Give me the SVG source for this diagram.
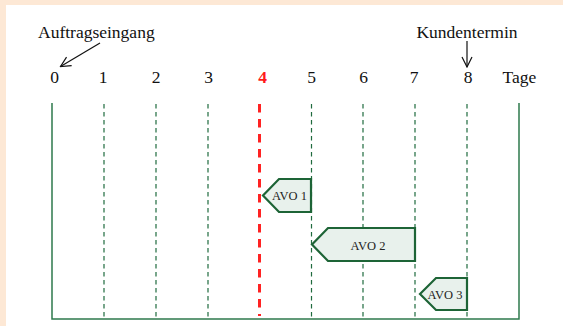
<svg xmlns="http://www.w3.org/2000/svg" width="563" height="326" viewBox="0 0 563 326">
  <style>
    .lbl { font-family: "Liberation Serif", "Times New Roman", serif; font-size: 17.5px; fill: #111; }
    .num { text-anchor: middle; }
    .avo { font-family: "Liberation Serif", "Times New Roman", serif; font-size: 12.5px; fill: #222; text-anchor: middle; }
    .axis { stroke: #2e7a4c; stroke-width: 1.5; fill: none; }
    .grid { stroke: #1f6b3e; stroke-width: 1.2; stroke-dasharray: 4.5 3.5; fill: none; }
    .today { stroke: #ff2222; stroke-width: 3; stroke-dasharray: 8.5 6.5; fill: none; }
    .task { fill: #e8f1ec; stroke: #1d6436; stroke-width: 2.2; stroke-linejoin: miter; }
    .pointer { stroke: #111; stroke-width: 1.2; fill: none; }
  </style>
  <defs>
    <marker id="vhead" viewBox="0 0 12 12" refX="11" refY="6" markerWidth="12" markerHeight="12" markerUnits="userSpaceOnUse" orient="auto">
      <path d="M1,1 L11,6 L1,11" fill="none" stroke="#111" stroke-width="1.2"/>
    </marker>
  </defs>

  <!-- page -->
  <rect x="0" y="0" width="563" height="326" fill="#fde8d5"/>
  <rect x="6" y="5" width="557" height="321" fill="#ffffff"/>

  <!-- timeline frame and day grid -->
  <g id="connectors">
    <path class="axis" d="M52,103 V319 H519 V103"/>
    <line class="grid" x1="104" y1="104" x2="104" y2="319"/>
    <line class="grid" x1="156" y1="104" x2="156" y2="319"/>
    <line class="grid" x1="208" y1="104" x2="208" y2="319"/>
    <line class="grid" x1="311.5" y1="104" x2="311.5" y2="319"/>
    <line class="grid" x1="363" y1="104" x2="363" y2="319"/>
    <line class="grid" x1="415" y1="104" x2="415" y2="319"/>
    <line class="grid" x1="467" y1="104" x2="467" y2="319"/>
    <line class="today" x1="259.5" y1="104" x2="259.5" y2="316"/>
    <line class="pointer" x1="100" y1="43" x2="60.5" y2="66.5" marker-end="url(#vhead)"/>
    <line class="pointer" x1="467" y1="41" x2="467" y2="67" marker-end="url(#vhead)"/>
  </g>

  <!-- annotations -->
  <g id="auftragseingang">
    <text class="lbl" x="38" y="38">Auftragseingang</text>
  </g>
  <g id="kundentermin">
    <text class="lbl" x="467" y="38" text-anchor="middle">Kundentermin</text>
  </g>

  <!-- day scale -->
  <g id="scale">
    <text class="lbl num" x="54.5" y="83">0</text>
    <text class="lbl num" x="103" y="83">1</text>
    <text class="lbl num" x="156" y="83">2</text>
    <text class="lbl num" x="208.5" y="83">3</text>
    <text class="lbl num" x="262.5" y="83" style="fill:#ff1a1a;font-weight:bold">4</text>
    <text class="lbl num" x="311.5" y="83">5</text>
    <text class="lbl num" x="363.5" y="83">6</text>
    <text class="lbl num" x="414" y="83">7</text>
    <text class="lbl num" x="468" y="83">8</text>
    <text class="lbl num" x="519.5" y="83">Tage</text>
  </g>

  <!-- work steps -->
  <g id="avo1">
    <polygon class="task" points="311,179 279,179 263,195.5 279,212 311,212"/>
    <text class="avo" x="289.5" y="200">AVO 1</text>
  </g>
  <g id="avo2">
    <polygon class="task" points="415,228 328,228 312,244.5 328,261 415,261"/>
    <text class="avo" x="368" y="249.5">AVO 2</text>
  </g>
  <g id="avo3">
    <polygon class="task" points="467,278 436,278 420,294 436,310 467,310"/>
    <text class="avo" x="445" y="299">AVO 3</text>
  </g>
</svg>
